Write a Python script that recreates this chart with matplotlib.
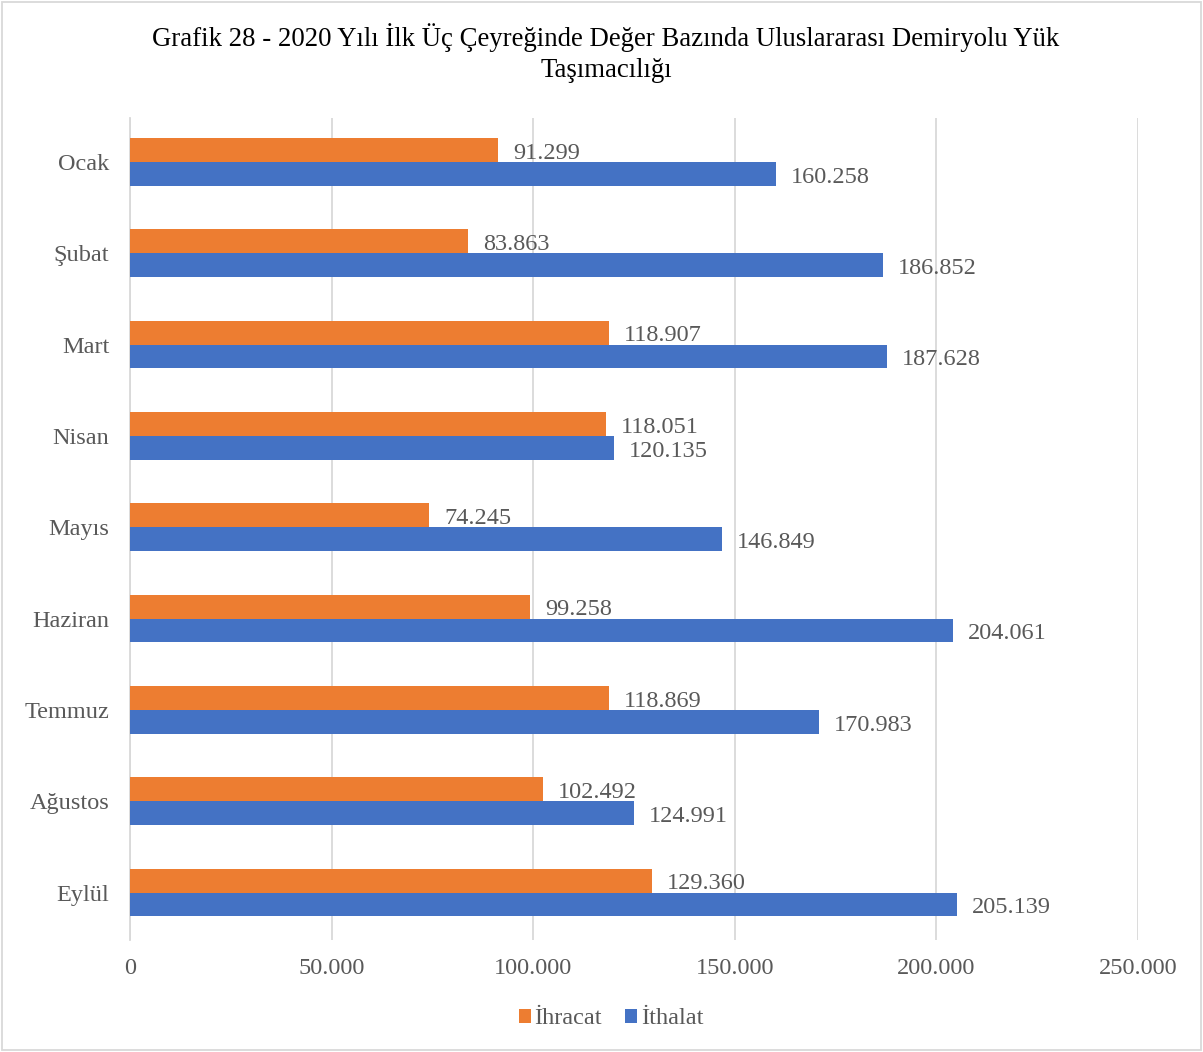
import matplotlib
matplotlib.use("Agg")
import matplotlib.pyplot as plt
import numpy as np
from matplotlib.patches import Rectangle

months = ["Ocak", "Şubat", "Mart", "Nisan", "Mayıs", "Haziran", "Temmuz", "Ağustos", "Eylül"]
ihracat = [91.299, 83.863, 118.907, 118.051, 74.245, 99.258, 118.869, 102.492, 129.360]
ithalat = [160.258, 186.852, 187.628, 120.135, 146.849, 204.061, 170.983, 124.991, 205.139]
xticks = [0, 50000, 100000, 150000, 200000, 250000]
xticklabels = ["0", "50.000", "100.000", "150.000", "200.000", "250.000"]
title = "Grafik 28 - 2020 Yılı İlk Üç Çeyreğinde Değer Bazında Uluslararası Demiryolu Yük\nTaşımacılığı"

ORANGE = "#ED7D31"
BLUE = "#4472C4"
GRAY = "#595959"
FS = 17.5

plt.rcParams["font.family"] = ["Liberation Serif", "DejaVu Serif"]

fig = plt.figure(figsize=(12.03, 10.52), dpi=100)
ax = fig.add_axes([130/1203, 1 - 940/1052, (1138-130)/1203, (940-118)/1052])

y = np.arange(len(months))
h = 0.262
exp_vals = np.array(ihracat) * 1000
imp_vals = np.array(ithalat) * 1000
b1 = ax.barh(y - h/2, exp_vals, height=h, color=ORANGE, label="İhracat", zorder=3)
b2 = ax.barh(y + h/2, imp_vals, height=h, color=BLUE, label="İthalat", zorder=3)

def fmt(v):
    return f"{v:.3f}"

for yi, v, s in zip(y - h/2, exp_vals, ihracat):
    ax.text(v + 3700, yi + 0.035, fmt(s), va="center", ha="left", fontsize=FS, color=GRAY)
for yi, v, s in zip(y + h/2, imp_vals, ithalat):
    ax.text(v + 3700, yi + 0.035, fmt(s), va="center", ha="left", fontsize=FS, color=GRAY)

ax.set_xlim(0, 250000)
ax.set_ylim(len(months) - 0.48, -0.48)
ax.set_yticks(y)
ax.set_yticklabels(months, fontsize=FS, color=GRAY)
ax.set_xticks(xticks)
ax.set_xticklabels(xticklabels, fontsize=FS, color=GRAY)
ax.tick_params(axis="y", length=0, pad=15)
ax.tick_params(axis="x", length=0, pad=13)
ax.grid(axis="x", color="#D9D9D9", linewidth=1.3, zorder=0)
for s in ["top", "right", "bottom"]:
    ax.spines[s].set_visible(False)
ax.spines["left"].set_color("#D9D9D9")
ax.spines["left"].set_linewidth(1.3)

fig.text(606/1203, 1 - 53/1052, title, ha="center", va="center", fontsize=19.3, color="black", linespacing=1.36)

leg = fig.legend(handles=[b1, b2], labels=["İhracat", "İthalat"], loc="center",
                 bbox_to_anchor=(611/1203, 1 - 1019/1052), ncol=2, frameon=False,
                 fontsize=FS, handlelength=0.5, handleheight=0.5, handletextpad=0.15,
                 columnspacing=0.95)
for t in leg.get_texts():
    t.set_color(GRAY)

fig.patches.append(Rectangle((2/1203, 2/1052), 1 - 4/1203, 1 - 4/1052, transform=fig.transFigure,
                             fill=False, edgecolor="#D9D9D9", linewidth=1.3))

fig.savefig("out.png", dpi=100)
